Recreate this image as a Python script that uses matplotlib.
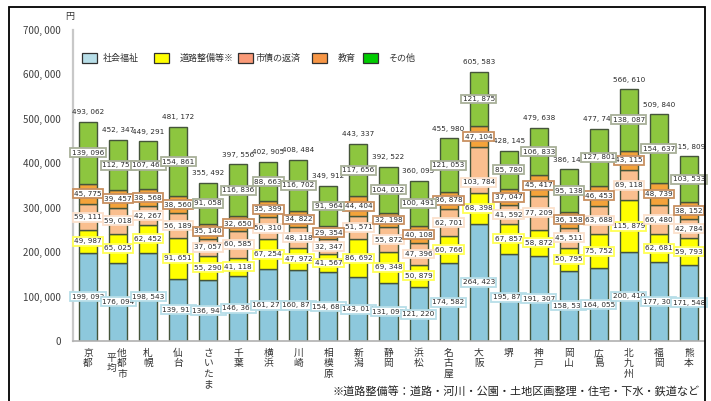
import matplotlib
matplotlib.use('Agg')
import matplotlib.pyplot as plt
from matplotlib.patches import Rectangle
from matplotlib.transforms import blended_transform_factory, offset_copy
from matplotlib import font_manager

plt.rcParams['font.family'] = ['Noto Sans CJK JP', 'DejaVu Sans']

# data (円 per person)
cities = ['京都', '他都市平均', '札幌', '仙台', 'さいたま', '千葉', '横浜', '川崎', '相模原', '新潟',
          '静岡', '浜松', '名古屋', '大阪', '堺', '神戸', '岡山', '広島', '北九州', '福岡', '熊本']
welfare = [199093, 176094, 198543, 139912, 136948, 146368, 161279, 160870, 154680, 143014,
           131092, 121220, 174582, 264423, 195870, 191307, 158539, 164055, 200410, 177303, 171548]
roads = [49987, 65025, 62452, 91651, 55290, 41118, 67254, 47972, 41567, 86692,
         69348, 50879, 60766, 68398, 67857, 58872, 50795, 75752, 115879, 62681, 59793]
debt = [59111, 59018, 42267, 56189, 37057, 60585, 50310, 48118, 32347, 51571,
        55872, 47396, 62701, 103784, 41592, 77209, 45511, 63688, 69118, 66480, 42784]
education = [45775, 39457, 38568, 38560, 35140, 32650, 35399, 34822, 29354, 44404,
             32198, 40108, 36878, 47104, 37047, 45417, 36158, 46453, 43115, 48739, 38152]
other = [139096, 112753, 107461, 154861, 91058, 116836, 88663, 116702, 91964, 117656,
         104012, 100491, 121053, 121875, 85780, 106833, 95138, 127801, 138087, 154637, 103533]
totals = [493062, 452347, 449291, 481172, 355492, 397556, 402905, 408484, 349912, 443337,
          392522, 360095, 455980, 605583, 428145, 479638, 386141, 477748, 566610, 509840, 415809]

series_names = ['社会福祉', '道路整備等※', '市債の返済', '教育', 'その他']
series = [welfare, roads, debt, education, other]
bar_colors = ['#8DC8DC', '#FFFF00', '#FABF8F', '#F4A33A', '#8DC63F']
legend_colors = ['#B7DEE8', '#FFFF00', '#FA9A78', '#F79646', '#00CC00']
label_edges = ['#B7DEE8', '#FFFF55', '#FBE0CC', '#C89060', '#A8B098']

# labels moved by hand in the original (pixels, down is negative)
nudge = {('大阪', 2): -12}

names = {f.name for f in font_manager.fontManager.ttflist}
if 'Liberation Sans Narrow' in names:
    num_font, num_size = ['Liberation Sans Narrow'], 6.6
else:
    num_font, num_size = ['DejaVu Sans'], 5.2

def fmt(v):
    return '{:,}'.format(v).replace(',', ', ')

W, H = 711, 401
fig = plt.figure(figsize=(W / 100, H / 100), dpi=100)
ax = fig.add_axes([73 / W, 1 - 341 / H, (704 - 73) / W, (341 - 30) / H])

x = list(range(len(cities)))
bottom = [0] * len(cities)
for k, (vals, col, ec) in enumerate(zip(series, bar_colors, label_edges)):
    ax.bar(x, vals, 0.6, bottom=bottom, color=col, edgecolor='#45553A', linewidth=1.0, zorder=2)
    for i, v in enumerate(vals):
        dy = nudge.get((cities[i], k), 0)
        ax.annotate(fmt(v), (i, bottom[i] + v / 2), xytext=(0, dy * 0.72), textcoords='offset points',
                    ha='center', va='center', fontsize=num_size, family=num_font,
                    color='#2A2A2A', zorder=4,
                    bbox=dict(boxstyle='square,pad=0.2', fc='white', ec=ec, lw=1.3))
    bottom = [b + v for b, v in zip(bottom, vals)]

for i, t in enumerate(totals):
    ax.annotate(fmt(t), (i, t), xytext=(0, 7), textcoords='offset points', family=num_font,
                ha='center', va='center', fontsize=num_size, color='#2A2A2A')

ax.set_xlim(-0.5, len(cities) - 0.5)
ax.set_ylim(0, 700000)
ax.set_yticks(range(0, 700001, 100000))
ax.set_yticklabels([fmt(v) for v in range(0, 700001, 100000)], fontsize=7, color='#404040')
ax.tick_params(axis='y', length=0, pad=9)
ax.set_xticks([])
for s in ['top', 'right']:
    ax.spines[s].set_visible(False)
ax.spines['left'].set_color('#C8C8C8')
ax.spines['left'].set_linewidth(1.6)
ax.spines['bottom'].set_color('#B0B0B0')
ax.spines['bottom'].set_linewidth(1.2)

# vertical city names
tr = blended_transform_factory(ax.transData, ax.transAxes)
for i, name in enumerate(cities):
    if name == '他都市平均':
        ax.text(i, -0.022, '\n'.join('他都市'), transform=offset_copy(tr, fig=fig, x=4, y=0, units='dots'),
                ha='center', va='top', fontsize=7, linespacing=1.05, color='#333333')
        ax.text(i, -0.022, '\n'.join('平均'), transform=offset_copy(tr, fig=fig, x=-7, y=-5, units='dots'),
                ha='center', va='top', fontsize=7, linespacing=1.05, color='#333333')
    else:
        ax.text(i, -0.022, '\n'.join(name), transform=tr, ha='center', va='top',
                fontsize=7, linespacing=1.05, color='#333333')

fig.text(70 / W, 1 - 17 / H, '円', fontsize=6.5, ha='center', va='center', color='#333333')

# legend drawn by hand
patch_x = [82, 154, 238, 312, 363]
text_x = [103, 180, 256, 338, 388]
for px, tx, c, name in zip(patch_x, text_x, legend_colors, series_names):
    fig.patches.append(Rectangle((px / W, 1 - 63 / H), 15 / W, 10 / H, transform=fig.transFigure,
                                 fc=c, ec='#303030', lw=0.9))
    fig.text(tx / W, 1 - 58 / H, name, fontsize=6.5, ha='left', va='center', color='#333333')

fig.text(700 / W, 1 - 392 / H, '※道路整備等：道路・河川・公園・土地区画整理・住宅・下水・鉄道など',
         fontsize=8, ha='right', va='center', color='#222222')

# outer frame
fig.patches.append(Rectangle((9 / W, -0.02), (705 - 9) / W, 1 - 7 / H + 0.02,
                             transform=fig.transFigure, fill=False, ec='black', lw=1.3))

fig.savefig('out.png', dpi=100)
